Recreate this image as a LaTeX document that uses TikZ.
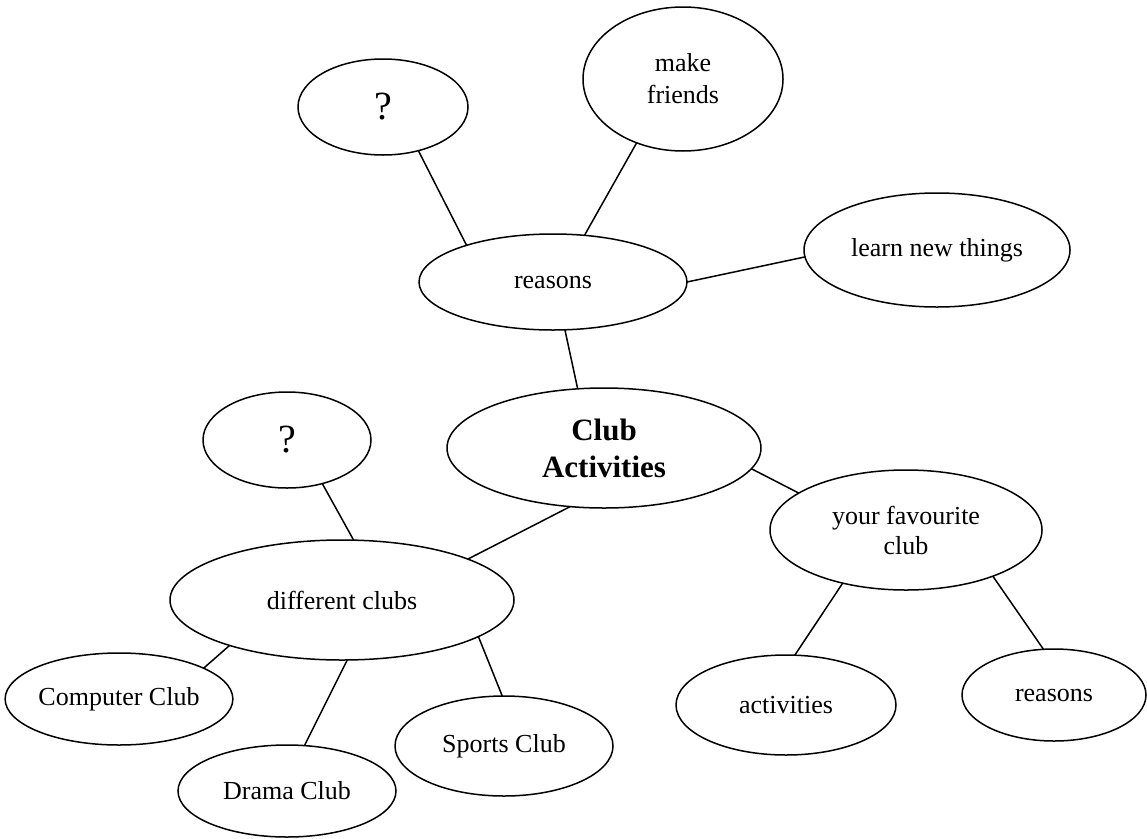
\documentclass[tikz,border=0pt]{standalone}
\usepackage{fontspec}
\setmainfont{Liberation Serif}
\usetikzlibrary{shapes.geometric}
\tikzset{
  bub/.style={ellipse, draw, line width=1.5pt, inner sep=0pt, outer sep=0pt, align=center,
    font=\fontsize{26}{31}\selectfont},
  qbub/.style={bub, font=\fontsize{40}{44}\selectfont},
  conn/.style={line width=1.5pt},
}
\begin{document}
\begin{tikzpicture}[x=1pt,y=-1pt]
\useasboundingbox (0,0) rectangle (1147,838);
% top cluster
\node[qbub, minimum width=170pt, minimum height=96pt] (q1) at (383,107) {?};
\node[bub, minimum width=200pt, minimum height=144pt, font=\fontsize{26}{32}\selectfont] (mf) at (683,79) {make\\friends};
\node[bub, minimum width=266pt, minimum height=114pt] (lnt) at (937,250) {learn new things};
\node[bub, minimum width=268pt, minimum height=96pt] (rs) at (553,282) {reasons};
% centre
\node[bub, minimum width=314pt, minimum height=120pt, font=\fontsize{31}{37}\selectfont\bfseries] (ca) at (604,448) {Club\\Activities};
% left cluster
\node[qbub, minimum width=168pt, minimum height=96pt] (q2) at (287,440) {?};
\node[bub, minimum width=344pt, minimum height=120pt] (dc) at (342,600) {different clubs};
\node[bub, minimum width=222pt, minimum height=92pt] (cc) at (119,699) {Computer Club};
\node[bub, minimum width=218pt, minimum height=92pt] (dr) at (287,791) {Drama Club};
\node[bub, minimum width=218pt, minimum height=100pt] (sc) at (504,746) {Sports Club};
% right cluster
\node[bub, minimum width=272pt, minimum height=120pt, font=\fontsize{26}{30}\selectfont] (yf) at (906,530) {your favourite\\club};
\node[bub, minimum width=220pt, minimum height=100pt] (ac) at (786,705) {activities};
\node[bub, minimum width=184pt, minimum height=92pt] (rr) at (1054,695) {reasons};
% connectors
\draw[conn] (q1.-51) -- (rs.157);
\draw[conn] (rs.56) -- (mf.-126);
\draw[conn] (rs.0) -- (lnt.183);
\draw[conn] (rs.-76) -- (ca.114);
\draw[conn] (ca.-8) -- (yf.161);
\draw[conn] (ca.-120) -- (dc.18);
\draw[conn] (q2.-51) -- (dc.79);
\draw[conn] (dc.-158) -- (cc.20);
\draw[conn] (dc.-85) -- (dr.69);
\draw[conn] (dc.-15) -- (sc.92);
\draw[conn] (yf.-140) -- (ac.80);
\draw[conn] (yf.-28) -- (rr.103);
\end{tikzpicture}
\end{document}
